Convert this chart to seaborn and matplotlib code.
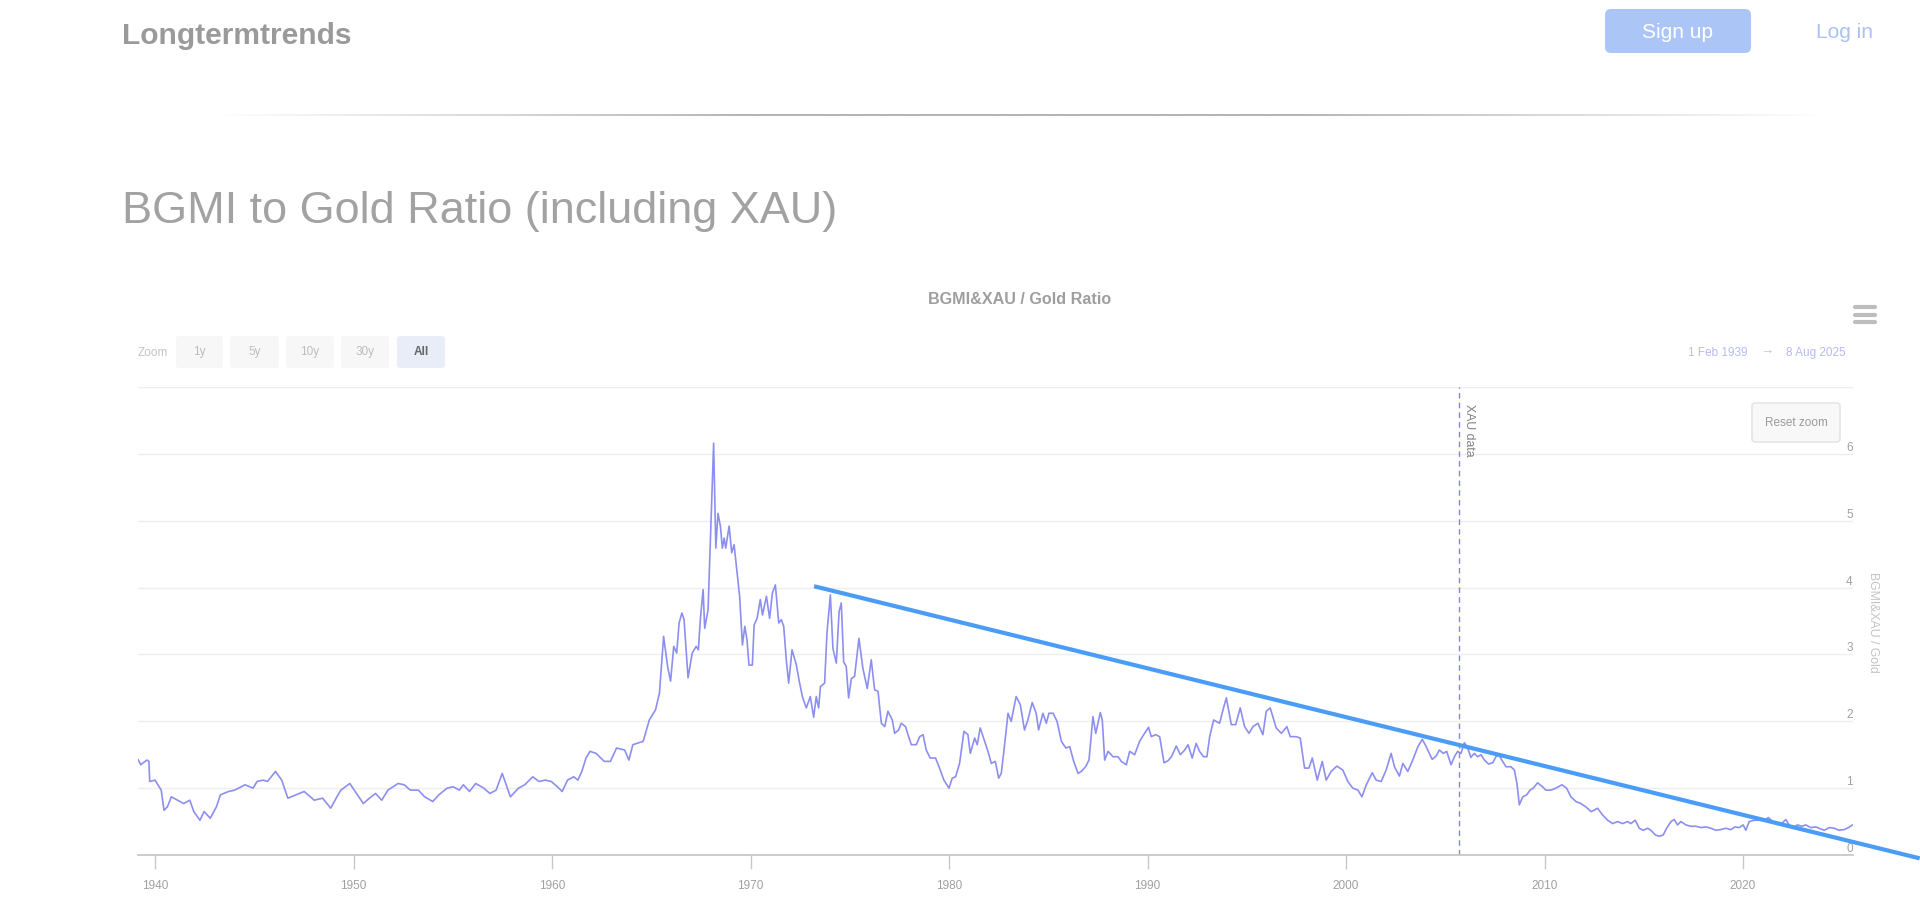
import numpy as np
import pandas as pd
import matplotlib
matplotlib.use("Agg")
import matplotlib.pyplot as plt
from matplotlib.patches import FancyBboxPatch
from matplotlib.colors import LinearSegmentedColormap
import seaborn as sns

# ratio series (decimal years)
ratio_years = [
    1939.14, 1939.28, 1939.59, 1939.69, 1939.73, 1940.00, 1940.10, 1940.31, 1940.45, 1940.62,
    1940.82, 1941.13, 1941.44, 1941.75, 1941.95, 1942.26, 1942.47, 1942.78, 1943.09, 1943.29,
    1943.70, 1944.01, 1944.53, 1944.94, 1945.14, 1945.45, 1945.66, 1946.07, 1946.38, 1946.69,
    1947.10, 1947.51, 1948.02, 1948.44, 1948.85, 1949.16, 1949.36, 1949.81, 1950.08, 1950.49,
    1950.80, 1951.11, 1951.42, 1951.73, 1952.24, 1952.55, 1952.86, 1953.27, 1953.58, 1953.99,
    1954.30, 1954.71, 1955.02, 1955.33, 1955.53, 1955.84, 1956.15, 1956.56, 1956.87, 1957.18,
    1957.49, 1957.90, 1958.31, 1958.62, 1959.03, 1959.34, 1959.65, 1959.96, 1960.27, 1960.51,
    1960.78, 1961.09, 1961.30, 1961.50, 1961.71, 1961.91, 1962.22, 1962.63, 1962.94, 1963.25,
    1963.66, 1963.87, 1964.07, 1964.59, 1964.90, 1965.21, 1965.41, 1965.62, 1965.82, 1965.97,
    1966.13, 1966.28, 1966.40, 1966.54, 1966.65, 1966.85, 1967.06, 1967.26, 1967.37, 1967.47,
    1967.61, 1967.69, 1967.86, 1967.94, 1968.14, 1968.25, 1968.36, 1968.48, 1968.58, 1968.67,
    1968.75, 1968.92, 1969.05, 1969.17, 1969.32, 1969.45, 1969.59, 1969.71, 1969.82, 1969.92,
    1970.09, 1970.18, 1970.33, 1970.49, 1970.60, 1970.80, 1970.96, 1971.10, 1971.25, 1971.42,
    1971.55, 1971.67, 1971.80, 1971.92, 1972.09, 1972.31, 1972.44, 1972.61, 1972.81, 1973.01,
    1973.18, 1973.31, 1973.43, 1973.52, 1973.73, 1973.85, 1974.02, 1974.15, 1974.32, 1974.46,
    1974.57, 1974.69, 1974.82, 1974.94, 1975.08, 1975.24, 1975.46, 1975.66, 1975.88, 1976.08,
    1976.25, 1976.42, 1976.59, 1976.76, 1976.92, 1977.14, 1977.26, 1977.46, 1977.59, 1977.81,
    1977.93, 1978.10, 1978.35, 1978.52, 1978.69, 1978.85, 1979.05, 1979.32, 1979.52, 1979.74,
    1980.00, 1980.16, 1980.33, 1980.53, 1980.75, 1980.95, 1981.07, 1981.29, 1981.42, 1981.57,
    1981.79, 1981.96, 1982.13, 1982.33, 1982.50, 1982.63, 1982.80, 1982.97, 1983.13, 1983.38,
    1983.59, 1983.80, 1983.97, 1984.19, 1984.39, 1984.51, 1984.73, 1984.90, 1985.03, 1985.24,
    1985.44, 1985.66, 1985.88, 1986.08, 1986.28, 1986.50, 1986.66, 1986.88, 1987.05, 1987.25,
    1987.39, 1987.62, 1987.72, 1987.84, 1988.01, 1988.26, 1988.51, 1988.68, 1988.93, 1989.10,
    1989.35, 1989.60, 1989.85, 1990.05, 1990.19, 1990.41, 1990.61, 1990.83, 1991.03, 1991.20,
    1991.45, 1991.65, 1991.87, 1992.04, 1992.25, 1992.45, 1992.62, 1992.82, 1992.99, 1993.13,
    1993.33, 1993.63, 1993.80, 1993.97, 1994.22, 1994.44, 1994.67, 1994.89, 1995.11, 1995.31,
    1995.56, 1995.81, 1995.98, 1996.18, 1996.48, 1996.74, 1997.02, 1997.19, 1997.49, 1997.69,
    1997.91, 1998.13, 1998.30, 1998.55, 1998.80, 1999.00, 1999.25, 1999.54, 1999.84, 2000.09,
    2000.34, 2000.60, 2000.80, 2001.02, 2001.32, 2001.52, 2001.77, 2002.02, 2002.27, 2002.44,
    2002.69, 2002.86, 2003.11, 2003.36, 2003.62, 2003.84, 2004.04, 2004.34, 2004.54, 2004.70,
    2004.90, 2005.07, 2005.29, 2005.46, 2005.62, 2005.79, 2005.96, 2006.13, 2006.29, 2006.46,
    2006.63, 2006.80, 2006.97, 2007.18, 2007.39, 2007.55, 2007.69, 2007.89, 2008.06, 2008.31,
    2008.48, 2008.61, 2008.73, 2008.90, 2009.10, 2009.27, 2009.43, 2009.65, 2009.90, 2010.07,
    2010.32, 2010.57, 2010.88, 2011.11, 2011.33, 2011.58, 2011.83, 2012.08, 2012.34, 2012.50,
    2012.67, 2012.92, 2013.18, 2013.43, 2013.68, 2013.93, 2014.18, 2014.35, 2014.57, 2014.77,
    2014.97, 2015.19, 2015.36, 2015.58, 2015.78, 2015.98, 2016.15, 2016.37, 2016.53, 2016.70,
    2016.87, 2017.12, 2017.37, 2017.62, 2017.88, 2018.13, 2018.38, 2018.63, 2018.88, 2019.13,
    2019.39, 2019.60, 2019.81, 2020.01, 2020.14, 2020.31, 2020.56, 2020.81, 2021.06, 2021.28,
    2021.48, 2021.74, 2021.90, 2022.16, 2022.32, 2022.52, 2022.74, 2022.96, 2023.16, 2023.41,
    2023.67, 2023.83, 2024.09, 2024.34, 2024.59, 2024.84, 2025.09, 2025.31, 2025.51,
]
ratio_values = [
    1.43, 1.35, 1.42, 1.40, 1.10, 1.12, 1.07, 0.97, 0.67, 0.72,
    0.87, 0.82, 0.77, 0.82, 0.65, 0.52, 0.65, 0.55, 0.72, 0.90,
    0.95, 0.97, 1.05, 1.00, 1.10, 1.12, 1.10, 1.25, 1.12, 0.85,
    0.90, 0.95, 0.82, 0.85, 0.70, 0.87, 0.97, 1.07, 0.95, 0.77,
    0.85, 0.92, 0.82, 0.97, 1.07, 1.05, 0.97, 0.97, 0.87, 0.80,
    0.90, 1.00, 1.02, 0.97, 1.05, 0.95, 1.07, 1.00, 0.92, 0.97,
    1.22, 0.87, 1.00, 1.05, 1.17, 1.10, 1.12, 1.10, 1.02, 0.95,
    1.12, 1.17, 1.12, 1.25, 1.45, 1.55, 1.52, 1.40, 1.40, 1.60,
    1.57, 1.42, 1.65, 1.70, 2.02, 2.17, 2.42, 3.27, 2.82, 2.60,
    3.12, 3.02, 3.47, 3.62, 3.52, 2.65, 3.02, 3.12, 3.07, 3.52,
    3.97, 3.39, 3.67, 4.37, 6.16, 4.59, 5.11, 4.92, 4.59, 4.74,
    4.59, 4.92, 4.52, 4.64, 4.22, 3.87, 3.14, 3.42, 3.22, 2.84,
    2.84, 3.44, 3.54, 3.82, 3.59, 3.87, 3.54, 3.92, 4.04, 3.47,
    3.52, 3.42, 2.92, 2.57, 3.07, 2.84, 2.62, 2.37, 2.20, 2.37,
    2.06, 2.37, 2.20, 2.52, 2.57, 3.32, 3.89, 3.09, 2.87, 3.64,
    3.77, 2.89, 2.82, 2.35, 2.64, 2.67, 3.24, 2.79, 2.49, 2.92,
    2.47, 2.45, 1.97, 1.92, 2.15, 2.02, 1.82, 1.87, 1.97, 1.92,
    1.80, 1.65, 1.65, 1.77, 1.80, 1.57, 1.45, 1.45, 1.30, 1.12,
    1.00, 1.15, 1.17, 1.37, 1.85, 1.80, 1.52, 1.75, 1.65, 1.90,
    1.70, 1.55, 1.37, 1.40, 1.15, 1.22, 1.65, 2.12, 2.00, 2.37,
    2.25, 1.87, 2.02, 2.28, 2.12, 1.87, 2.12, 1.97, 2.12, 2.12,
    2.00, 1.70, 1.60, 1.62, 1.40, 1.22, 1.25, 1.32, 1.42, 2.07,
    1.82, 2.13, 2.02, 1.42, 1.55, 1.47, 1.47, 1.40, 1.35, 1.55,
    1.50, 1.70, 1.82, 1.91, 1.77, 1.80, 1.77, 1.38, 1.41, 1.47,
    1.63, 1.50, 1.57, 1.65, 1.45, 1.67, 1.55, 1.47, 1.47, 1.77,
    2.02, 1.97, 2.17, 2.35, 1.95, 1.95, 2.20, 1.92, 1.82, 1.92,
    1.97, 1.80, 2.15, 2.20, 1.90, 1.82, 1.92, 1.77, 1.77, 1.75,
    1.30, 1.30, 1.45, 1.12, 1.40, 1.12, 1.25, 1.33, 1.27, 1.10,
    1.00, 0.97, 0.87, 1.05, 1.23, 1.12, 1.10, 1.27, 1.52, 1.32,
    1.18, 1.37, 1.25, 1.42, 1.62, 1.73, 1.62, 1.43, 1.48, 1.57,
    1.52, 1.55, 1.35, 1.47, 1.55, 1.52, 1.68, 1.60, 1.46, 1.52,
    1.47, 1.50, 1.42, 1.36, 1.38, 1.47, 1.50, 1.40, 1.32, 1.32,
    1.27, 1.07, 0.75, 0.87, 0.90, 0.97, 1.00, 1.08, 1.02, 0.97,
    0.97, 1.00, 1.05, 1.00, 0.87, 0.80, 0.77, 0.72, 0.65, 0.67,
    0.70, 0.60, 0.52, 0.47, 0.50, 0.47, 0.50, 0.47, 0.52, 0.40,
    0.37, 0.40, 0.37, 0.30, 0.28, 0.30, 0.40, 0.50, 0.53, 0.45,
    0.50, 0.45, 0.43, 0.43, 0.41, 0.42, 0.40, 0.37, 0.38, 0.40,
    0.38, 0.42, 0.41, 0.45, 0.37, 0.50, 0.52, 0.52, 0.52, 0.56,
    0.50, 0.47, 0.46, 0.53, 0.45, 0.41, 0.45, 0.43, 0.45, 0.41,
    0.42, 0.40, 0.37, 0.41, 0.40, 0.37, 0.38, 0.41, 0.45,
]

# hand drawn trend line (start / end as on the chart)
trend_years = [1973.2, 2028.9]
trend_values = [4.02, -0.05]

xau_start = 2005.7
x_ticks = [1940, 1950, 1960, 1970, 1980, 1990, 2000, 2010, 2020]
y_ticks = [0, 1, 2, 3, 4, 5, 6, 7]
y_tick_labels = ["0", "1", "2", "3", "4", "5", "6", ""]
zoom_buttons = ["1y", "5y", "10y", "30y", "All"]

W, H = 1920, 907
LINE = "#8d8ff0"
TREND = "#4a9cf6"

sns.set_theme(style="white")
plt.rcParams["font.family"] = ["Liberation Sans", "DejaVu Sans"]

fig = plt.figure(figsize=(W / 100, H / 100), dpi=100)
fig.patch.set_facecolor("white")


def fx(x):
    return x / W


def fy(y):
    return 1 - y / H


def box(x0, y0, x1, y1, face, edge="none", r=4):
    p = FancyBboxPatch((x0, H - y1), x1 - x0, y1 - y0,
                       boxstyle=f"round,pad=0,rounding_size={r}",
                       facecolor=face, edgecolor=edge, linewidth=1,
                       transform=None, figure=fig)
    fig.patches.append(p)


# header
fig.text(fx(122), fy(36), "Longtermtrends", fontsize=21.6, fontweight="bold",
         color="#9a9a9a", va="center", ha="left")
box(1605, 9, 1751, 53, "#abc5f6", r=6)
fig.text(fx(1678), fy(33), "Sign up", fontsize=15, color="white", va="center", ha="center")
fig.text(fx(1845), fy(33), "Log in", fontsize=15, color="#a9c2f3", va="center", ha="center")

# faded separator
sep = fig.add_axes([fx(214), fy(116), fx(1824 - 214), 2 / H])
t = np.linspace(0, 1, 600)
sep.imshow(np.minimum(1, np.minimum(t, 1 - t) * 3)[None, :], aspect="auto",
           cmap=LinearSegmentedColormap.from_list("fade", ["#ffffff", "#b4b4b4"]),
           vmin=0, vmax=1)
sep.axis("off")

fig.text(fx(122), fy(211), "BGMI to Gold Ratio (including XAU)", fontsize=32.4,
         color="#a2a2a2", va="center", ha="left")

# chart header row
fig.text(fx(1020), fy(299), "BGMI&XAU / Gold Ratio", fontsize=11.6, fontweight="bold",
         color="#9e9e9e", va="center", ha="center")
for yb in (307, 315, 322):
    fig.add_artist(plt.Line2D([fx(1855), fx(1875)], [fy(yb), fy(yb)], color="#bdbdbd",
                              linewidth=3, solid_capstyle="round"))

fig.text(fx(138), fy(353), "Zoom", fontsize=8.5, color="#c4c4c4", va="center", ha="left")
btn_x = [(176, 223), (230, 279), (286, 334), (341, 389), (397, 445)]
for label, (x0, x1) in zip(zoom_buttons, btn_x):
    active = label == "All"
    box(x0, 336, x1, 368, "#e8edf8" if active else "#f7f7f7", r=3)
    fig.text(fx((x0 + x1) / 2), fy(352), label, fontsize=8.5,
             color="#666666" if active else "#bdbdbd",
             fontweight="bold" if active else "normal", va="center", ha="center")

fig.text(fx(1748), fy(353), "1 Feb 1939", fontsize=8.5, color="#b7baf3", va="center", ha="right")
fig.text(fx(1767), fy(352), "\u2192", fontsize=9.5, color="#c4c4c4", va="center", ha="center")
fig.text(fx(1786), fy(353), "8 Aug 2025", fontsize=8.5, color="#b7baf3", va="center", ha="left")

# plot area
ax = fig.add_axes([fx(138), fy(855), fx(1853 - 138), (855 - 387) / H])
df = pd.DataFrame({"year": ratio_years, "ratio": ratio_values})
sns.lineplot(data=df, x="year", y="ratio", ax=ax, color=LINE, linewidth=1.2)
ax.plot(trend_years, trend_values, color=TREND, linewidth=3, clip_on=False,
        solid_capstyle="butt", zorder=5)
ax.axvline(xau_start, color="#8085e9", linewidth=1, linestyle=(0, (4, 3)))
ax.text(xau_start + 0.2, 6.75, "XAU data", rotation=270, fontsize=8.8, color="#808080",
        ha="left", va="top", transform=ax.transData)

ax.set_xlim(1939.14, 2025.54)
ax.set_ylim(0, 7)
ax.set_xticks(x_ticks)
ax.set_xticklabels([str(v) for v in x_ticks])
ax.set_yticks(y_ticks)
ax.set_yticklabels(y_tick_labels)
ax.grid(axis="y", color="#eeeeee", linewidth=1)
ax.grid(axis="x", visible=False)
for side in ("top", "left", "right"):
    ax.spines[side].set_visible(False)
ax.spines["bottom"].set_color("#c8c8c8")
ax.spines["bottom"].set_linewidth(1.3)
ax.tick_params(axis="x", length=10, width=1, color="#c8c8c8", pad=8,
               labelsize=8.5, labelcolor="#a0a0a0", bottom=True)
ax.tick_params(axis="y", left=False, right=False, labelleft=False, labelright=True,
               labelsize=8.5, labelcolor="#a0a0a0", pad=-11)
for lab in ax.get_yticklabels():
    lab.set_verticalalignment("bottom")
ax.set_xlabel("")
ax.set_ylabel("")
ax.set_facecolor("white")

fig.text(fx(1873), fy(622), "BGMI&XAU / Gold", rotation=270, fontsize=8.8,
         color="#c4c4c4", va="center", ha="center")

# reset zoom button
box(1752, 403, 1840, 442, "#f8f8f8", edge="#e2e2e2", r=3)
fig.text(fx(1796), fy(423), "Reset zoom", fontsize=8.5, color="#9a9a9a", va="center", ha="center")

fig.savefig("out.png", dpi=100, facecolor="white")
